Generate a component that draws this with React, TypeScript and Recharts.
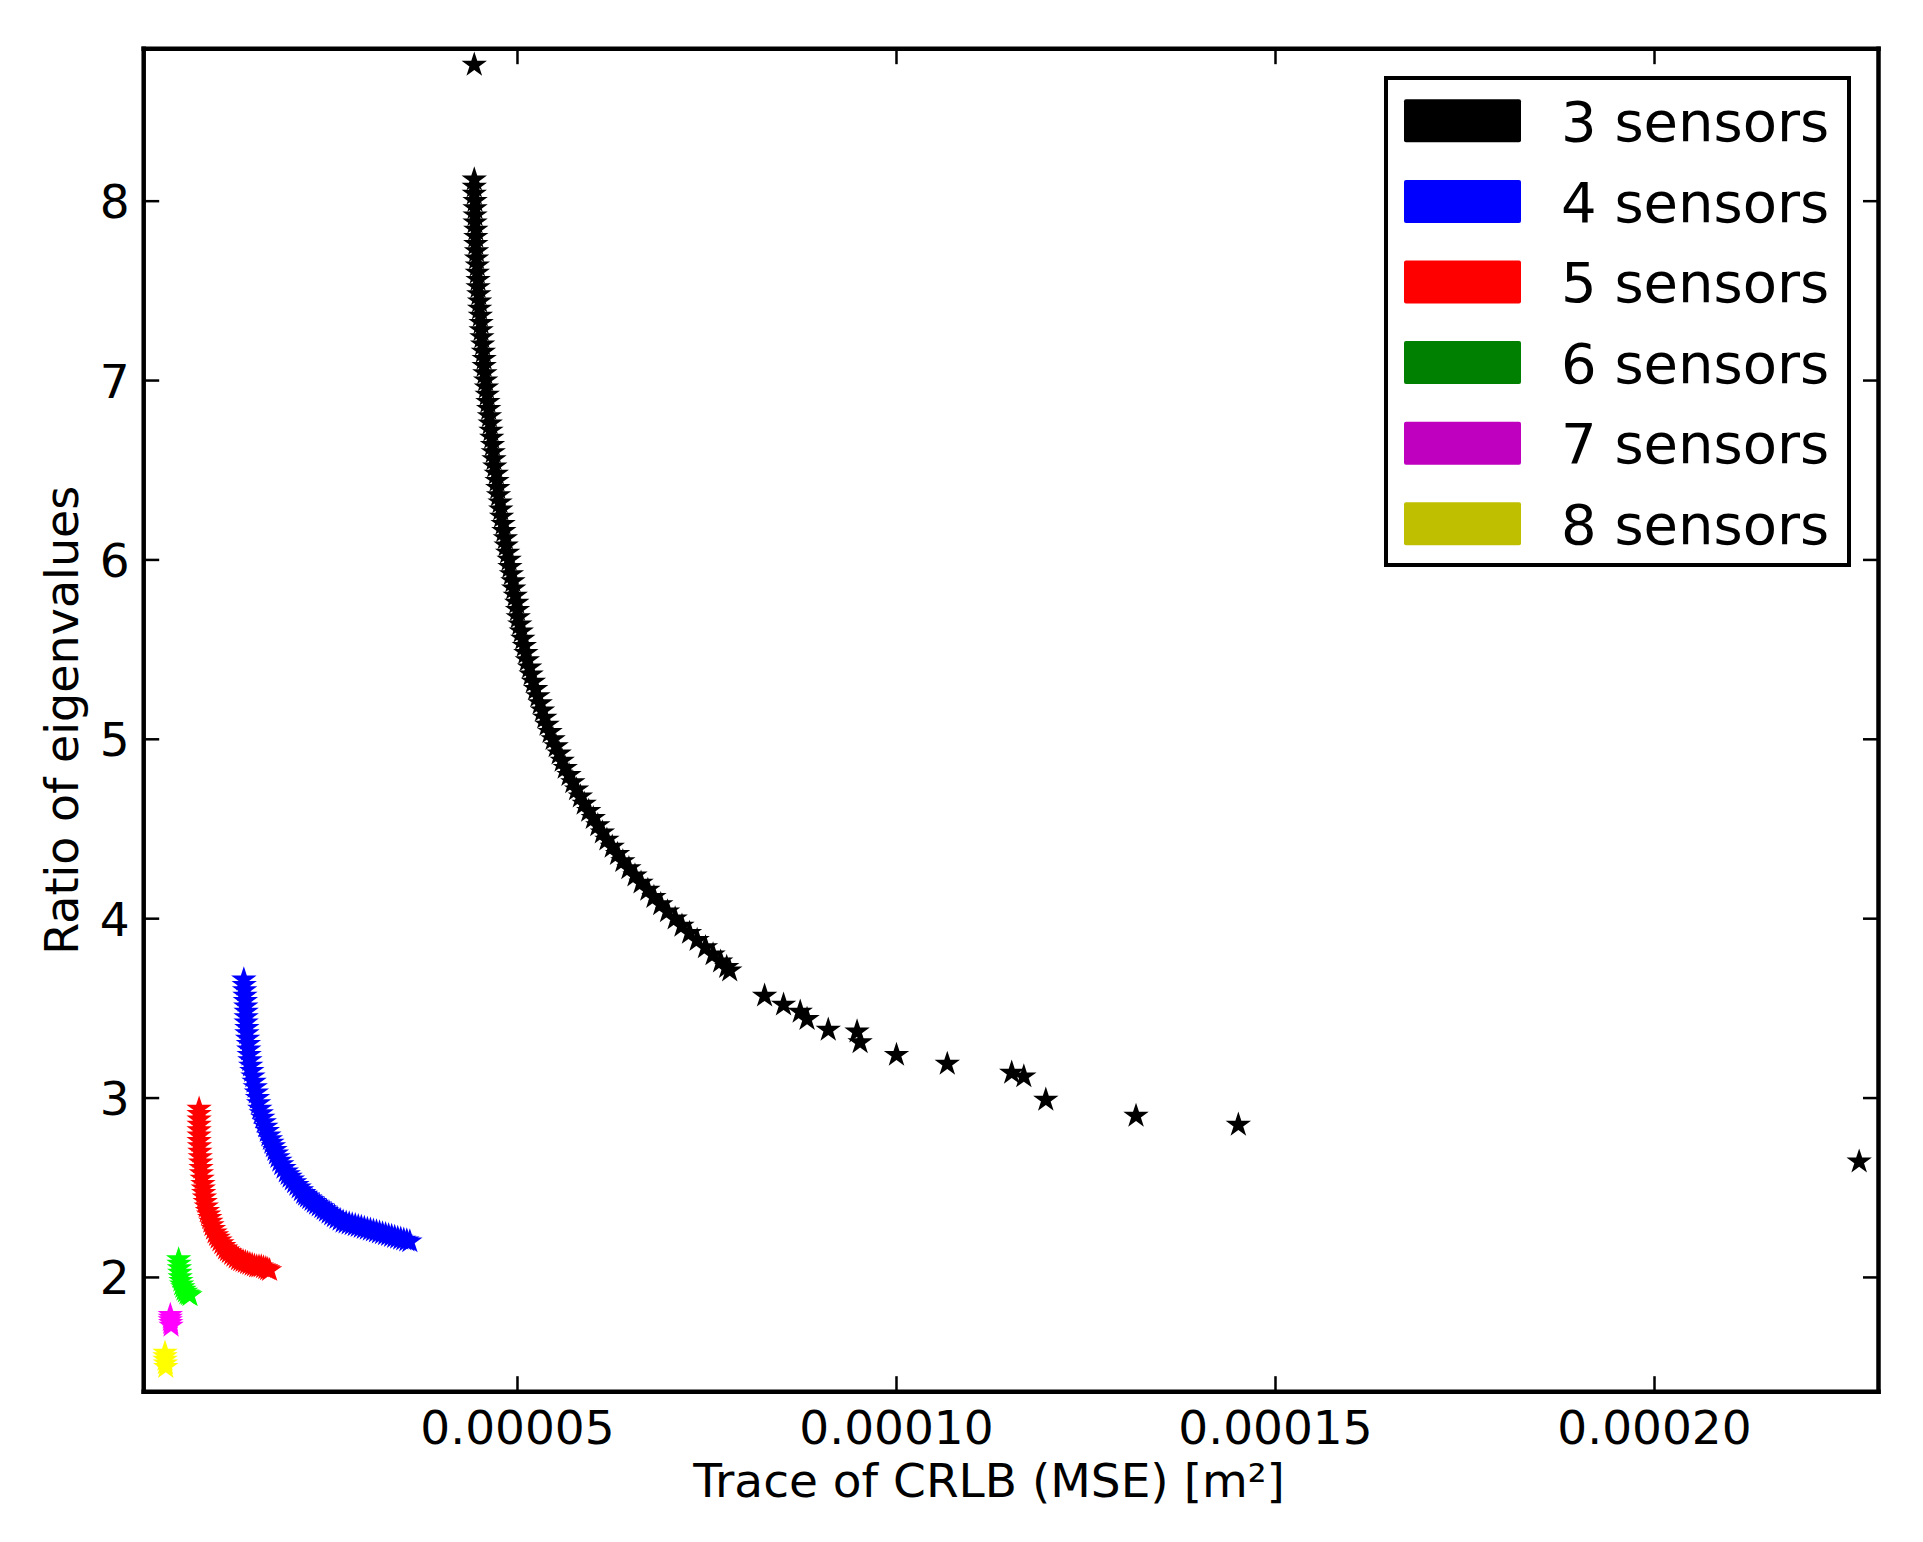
import React from "react";
import {
  ScatterChart,
  Scatter,
  XAxis,
  YAxis,
  Legend,
  ReferenceLine,
  Symbols,
} from "recharts";

// points are [trace of CRLB, ratio of eigenvalues]
const sensors3: [number, number][] = [
  [4.43e-5, 8.76],
  [4.43e-5, 8.12], [4.43e-5, 8.08], [4.43e-5, 8.04], [4.44e-5, 8.0], [4.44e-5, 7.96],
  [4.44e-5, 7.92], [4.44e-5, 7.88], [4.45e-5, 7.84], [4.45e-5, 7.8], [4.45e-5, 7.76],
  [4.46e-5, 7.72], [4.46e-5, 7.68], [4.47e-5, 7.64], [4.47e-5, 7.6], [4.48e-5, 7.56],
  [4.48e-5, 7.52], [4.49e-5, 7.48], [4.5e-5, 7.44], [4.5e-5, 7.4], [4.51e-5, 7.36],
  [4.52e-5, 7.32], [4.52e-5, 7.28], [4.53e-5, 7.24], [4.54e-5, 7.2], [4.55e-5, 7.16],
  [4.56e-5, 7.12], [4.56e-5, 7.08], [4.57e-5, 7.04], [4.58e-5, 7.0], [4.59e-5, 6.96],
  [4.6e-5, 6.92], [4.61e-5, 6.88], [4.62e-5, 6.84], [4.63e-5, 6.8], [4.64e-5, 6.76],
  [4.65e-5, 6.72], [4.66e-5, 6.68], [4.67e-5, 6.64], [4.68e-5, 6.6], [4.69e-5, 6.56],
  [4.7e-5, 6.52], [4.72e-5, 6.48], [4.73e-5, 6.44], [4.74e-5, 6.4], [4.75e-5, 6.36],
  [4.77e-5, 6.32], [4.78e-5, 6.28], [4.79e-5, 6.24], [4.81e-5, 6.2], [4.82e-5, 6.16],
  [4.84e-5, 6.12], [4.85e-5, 6.08], [4.87e-5, 6.04], [4.89e-5, 6.0], [4.9e-5, 5.96],
  [4.92e-5, 5.92], [4.94e-5, 5.88], [4.95e-5, 5.84], [4.97e-5, 5.8], [4.99e-5, 5.76],
  [5.0e-5, 5.72], [5.01e-5, 5.68], [5.03e-5, 5.64], [5.05e-5, 5.6], [5.07e-5, 5.56],
  [5.09e-5, 5.52], [5.11e-5, 5.48], [5.13e-5, 5.44], [5.16e-5, 5.4], [5.18e-5, 5.36],
  [5.21e-5, 5.32], [5.24e-5, 5.28], [5.27e-5, 5.24], [5.3e-5, 5.2], [5.33e-5, 5.16],
  [5.36e-5, 5.12], [5.39e-5, 5.08], [5.43e-5, 5.04], [5.47e-5, 5.0], [5.51e-5, 4.96],
  [5.55e-5, 4.92], [5.59e-5, 4.88], [5.63e-5, 4.84], [5.68e-5, 4.8], [5.73e-5, 4.76],
  [5.78e-5, 4.72], [5.83e-5, 4.68], [5.88e-5, 4.64], [5.94e-5, 4.6], [6.0e-5, 4.56],
  [6.06e-5, 4.52], [6.12e-5, 4.48], [6.18e-5, 4.44], [6.25e-5, 4.4], [6.32e-5, 4.36],
  [6.39e-5, 4.32], [6.47e-5, 4.28], [6.55e-5, 4.24], [6.63e-5, 4.2], [6.72e-5, 4.16],
  [6.8e-5, 4.12], [6.89e-5, 4.08], [6.98e-5, 4.04], [7.08e-5, 4.0], [7.17e-5, 3.96],
  [7.27e-5, 3.92], [7.37e-5, 3.88], [7.48e-5, 3.84], [7.58e-5, 3.8], [7.68e-5, 3.76],
  [7.76e-5, 3.73], [7.8e-5, 3.71],
  [8.26e-5, 3.57], [8.51e-5, 3.52], [8.73e-5, 3.48], [8.82e-5, 3.44], [9.1e-5, 3.38],
  [9.48e-5, 3.37], [9.52e-5, 3.31], [10.0e-5, 3.24], [10.67e-5, 3.19], [11.52e-5, 3.14],
  [11.68e-5, 3.12], [11.97e-5, 2.99], [13.16e-5, 2.9], [14.51e-5, 2.85], [22.7e-5, 2.645],
];

const sensors4: [number, number][] = [
  [1.39e-5, 3.66], [1.395e-5, 3.63], [1.4e-5, 3.6], [1.405e-5, 3.57], [1.41e-5, 3.54],
  [1.415e-5, 3.51], [1.42e-5, 3.48], [1.42e-5, 3.45], [1.42e-5, 3.42], [1.43e-5, 3.39],
  [1.43e-5, 3.36], [1.44e-5, 3.33], [1.45e-5, 3.3], [1.455e-5, 3.27], [1.46e-5, 3.24],
  [1.47e-5, 3.21], [1.48e-5, 3.18], [1.495e-5, 3.15], [1.51e-5, 3.12], [1.525e-5, 3.09],
  [1.54e-5, 3.06], [1.555e-5, 3.03], [1.57e-5, 3.0], [1.585e-5, 2.97], [1.6e-5, 2.94],
  [1.62e-5, 2.915], [1.64e-5, 2.89], [1.66e-5, 2.865], [1.68e-5, 2.84], [1.7e-5, 2.815],
  [1.72e-5, 2.79], [1.74e-5, 2.77], [1.76e-5, 2.75], [1.78e-5, 2.73], [1.8e-5, 2.71],
  [1.82e-5, 2.69], [1.84e-5, 2.67], [1.865e-5, 2.65], [1.89e-5, 2.63], [1.92e-5, 2.61],
  [1.95e-5, 2.59], [1.975e-5, 2.575], [2.0e-5, 2.56], [2.03e-5, 2.545], [2.06e-5, 2.53],
  [2.09e-5, 2.515], [2.12e-5, 2.5], [2.15e-5, 2.485], [2.18e-5, 2.47], [2.205e-5, 2.46],
  [2.23e-5, 2.45], [2.26e-5, 2.44], [2.29e-5, 2.43], [2.32e-5, 2.42], [2.35e-5, 2.41],
  [2.385e-5, 2.4], [2.42e-5, 2.39], [2.45e-5, 2.38], [2.48e-5, 2.37], [2.515e-5, 2.36],
  [2.55e-5, 2.35], [2.585e-5, 2.34], [2.62e-5, 2.33], [2.66e-5, 2.32], [2.7e-5, 2.31],
  [2.74e-5, 2.305], [2.78e-5, 2.3], [2.82e-5, 2.295], [2.86e-5, 2.29], [2.9e-5, 2.285],
  [2.94e-5, 2.28], [2.98e-5, 2.275], [3.02e-5, 2.27], [3.06e-5, 2.265], [3.1e-5, 2.26],
  [3.14e-5, 2.255], [3.18e-5, 2.25], [3.22e-5, 2.245], [3.26e-5, 2.24], [3.3e-5, 2.235],
  [3.34e-5, 2.23], [3.38e-5, 2.225], [3.42e-5, 2.22], [3.46e-5, 2.215], [3.5e-5, 2.21],
  [3.54e-5, 2.205], [3.58e-5, 2.2],
];

const sensors5: [number, number][] = [
  [0.8e-5, 2.94], [0.8e-5, 2.91], [0.8e-5, 2.88], [0.8e-5, 2.85], [0.8e-5, 2.82],
  [0.8e-5, 2.79], [0.8e-5, 2.76], [0.805e-5, 2.73], [0.81e-5, 2.7], [0.815e-5, 2.67],
  [0.82e-5, 2.64], [0.825e-5, 2.61], [0.83e-5, 2.58], [0.84e-5, 2.55], [0.85e-5, 2.52],
  [0.855e-5, 2.495], [0.86e-5, 2.47], [0.87e-5, 2.445], [0.88e-5, 2.42], [0.895e-5, 2.395],
  [0.91e-5, 2.37], [0.925e-5, 2.35], [0.94e-5, 2.33], [0.955e-5, 2.31], [0.97e-5, 2.29],
  [0.99e-5, 2.27], [1.01e-5, 2.25], [1.03e-5, 2.235], [1.05e-5, 2.22], [1.075e-5, 2.205],
  [1.1e-5, 2.19], [1.125e-5, 2.175], [1.15e-5, 2.16], [1.175e-5, 2.15], [1.2e-5, 2.14],
  [1.23e-5, 2.13], [1.26e-5, 2.12], [1.29e-5, 2.11], [1.32e-5, 2.1], [1.35e-5, 2.095],
  [1.38e-5, 2.09], [1.41e-5, 2.085], [1.44e-5, 2.08], [1.47e-5, 2.075], [1.5e-5, 2.07],
  [1.53e-5, 2.065], [1.56e-5, 2.06], [1.59e-5, 2.06], [1.62e-5, 2.06], [1.65e-5, 2.055],
  [1.68e-5, 2.05], [1.705e-5, 2.045], [1.73e-5, 2.04],
];

const sensors6: [number, number][] = [
  [0.53e-5, 2.1], [0.535e-5, 2.075], [0.54e-5, 2.05], [0.545e-5, 2.025], [0.55e-5, 2.0],
  [0.56e-5, 1.98], [0.57e-5, 1.96], [0.585e-5, 1.945], [0.6e-5, 1.93], [0.62e-5, 1.92],
  [0.64e-5, 1.91], [0.66e-5, 1.905], [0.68e-5, 1.9],
];

const sensors7: [number, number][] = [
  [0.42e-5, 1.79], [0.42e-5, 1.775], [0.42e-5, 1.76], [0.425e-5, 1.745], [0.43e-5, 1.73],
];

const sensors8: [number, number][] = [
  [0.35e-5, 1.58], [0.35e-5, 1.56], [0.35e-5, 1.54], [0.355e-5, 1.52], [0.36e-5, 1.5],
];

const seriesNames = ["3 sensors", "4 sensors", "5 sensors", "6 sensors", "7 sensors", "8 sensors"];
const seriesData = [sensors3, sensors4, sensors5, sensors6, sensors7, sensors8];
const markerColors = ["#000000", "#0000ff", "#ff0000", "#00ff00", "#ff00ff", "#ffff00"];
const legendColors = ["#000000", "#0000ff", "#ff0000", "#008000", "#bf00bf", "#bfbf00"];

const xTicks = [0.00005, 0.0001, 0.00015, 0.0002];
const yTicks = [2, 3, 4, 5, 6, 7, 8];
const xDomain = [6.9e-7, 2.2955e-4];
const yDomain = [1.363, 8.85];

// chart geometry
const W = 1923;
const H = 1542;
const M = { top: 47.7, right: 43.5, bottom: 0, left: 0 };
const Y_AXIS_W = 143.7;
const X_AXIS_H = 150.3;
const PLOT_H = H - M.top - M.bottom - X_AXIS_H - 1;

const FONT = "'DejaVu Sans', 'Liberation Sans', sans-serif";
const TICK_LEN = 15.5;
const TICK_W = 2.5;
const STAR_SIZE = 200;

const frame = { stroke: "#000", strokeWidth: 4.5, strokeLinecap: "square" as const };

const starShape = (color: string) => (props: any) => (
  <Symbols cx={props.cx} cy={props.cy} type="star" size={STAR_SIZE} sizeType="area" fill={color} />
);

// ticks point inward, matplotlib style
const BottomTick = ({ x, y, payload }: any) => (
  <g>
    <rect x={x - TICK_W / 2} y={y - TICK_LEN} width={TICK_W} height={TICK_LEN} fill="#000" />
    <text x={x} y={y + 52} textAnchor="middle" fontSize={47} fontFamily={FONT} fill="#000">
      {Number(payload.value).toFixed(5)}
    </text>
  </g>
);

const LeftTick = ({ x, y, payload }: any) => (
  <g>
    <rect x={x} y={y - TICK_W / 2} width={TICK_LEN} height={TICK_W} fill="#000" />
    <text x={x - 14} y={y + 17} textAnchor="end" fontSize={47} fontFamily={FONT} fill="#000">
      {payload.value}
    </text>
  </g>
);

const RightTick = ({ x, y }: any) => (
  <rect x={x - TICK_LEN} y={y - TICK_W / 2} width={TICK_LEN} height={TICK_W} fill="#000" />
);

const XTitle = (props: any) => {
  const vb = props.viewBox;
  return (
    <text x={vb.x + vb.width / 2 - 22} y={vb.y + 105.3} textAnchor="middle" fontSize={47} fontFamily={FONT} fill="#000">
      Trace of CRLB (MSE) [m²]
    </text>
  );
};

const YTitle = (props: any) => {
  const vb = props.viewBox;
  const cx = vb.x + 78;
  const cy = vb.y + vb.height / 2;
  return (
    <text x={cx} y={cy} transform={`rotate(-90, ${cx}, ${cy})`} textAnchor="middle" fontSize={46} fontFamily={FONT} fill="#000">
      Ratio of eigenvalues
    </text>
  );
};

const LegendBox = () => (
  <svg width={467} height={491}>
    <rect x={2} y={2} width={463} height={487} fill="#fff" stroke="#000" strokeWidth={4} />
    {seriesNames.map((name, i) => (
      <g key={name}>
        <rect x={20} y={23.3 + i * 80.6} width={117} height={43} rx={2} fill={legendColors[i]} />
        <text x={177} y={65 + i * 80.6} fontSize={56} fontFamily={FONT} fill="#000">
          {name}
        </text>
      </g>
    ))}
  </svg>
);

// top ticks length in data units
const yTickLen = (TICK_LEN * (yDomain[1] - yDomain[0])) / PLOT_H;

export default function App() {
  return (
    <div>
      <style>{"body{margin:0;overflow:hidden;background:#fff}"}</style>
      <ScatterChart width={W} height={H} margin={M}>
        <XAxis
          xAxisId="bottom"
          dataKey="x"
          type="number"
          domain={xDomain}
          allowDataOverflow
          ticks={xTicks}
          height={X_AXIS_H}
          tickSize={0}
          tickMargin={0}
          tickLine={false}
          tick={<BottomTick />}
          axisLine={frame}
          label={(p: any) => <XTitle {...p} />}
        />
        <XAxis
          xAxisId="top"
          orientation="top"
          type="number"
          domain={xDomain}
          allowDataOverflow
          ticks={xTicks}
          height={1}
          tickLine={false}
          tick={false}
          axisLine={frame}
        />
        <YAxis
          yAxisId="left"
          dataKey="y"
          type="number"
          domain={yDomain}
          allowDataOverflow
          ticks={yTicks}
          width={Y_AXIS_W}
          tickSize={0}
          tickMargin={0}
          tickLine={false}
          tick={<LeftTick />}
          axisLine={frame}
          label={(p: any) => <YTitle {...p} />}
        />
        <YAxis
          yAxisId="right"
          orientation="right"
          type="number"
          domain={yDomain}
          allowDataOverflow
          ticks={yTicks}
          width={1}
          tickSize={0}
          tickMargin={0}
          tickLine={false}
          tick={<RightTick />}
          axisLine={frame}
        />
        {xTicks.map((t) => (
          <ReferenceLine
            key={`xt${t}`}
            xAxisId="bottom"
            yAxisId="left"
            stroke="#000"
            strokeWidth={TICK_W}
            ifOverflow="visible"
            segment={[{ x: t, y: yDomain[1] }, { x: t, y: yDomain[1] - yTickLen }]}
          />
        ))}
        {seriesData.map((pts, i) => (
          <Scatter
            key={seriesNames[i]}
            name={seriesNames[i]}
            xAxisId="bottom"
            yAxisId="left"
            data={pts.map(([x, y]) => ({ x, y }))}
            fill={markerColors[i]}
            shape={starShape(markerColors[i])}
            isAnimationActive={false}
          />
        ))}
        <Legend
          layout="vertical"
          align="center"
          verticalAlign="middle"
          content={<LegendBox />}
          wrapperStyle={{ position: "absolute", left: 1384, top: 76, width: 467, height: 491 }}
        />
      </ScatterChart>
    </div>
  );
}
